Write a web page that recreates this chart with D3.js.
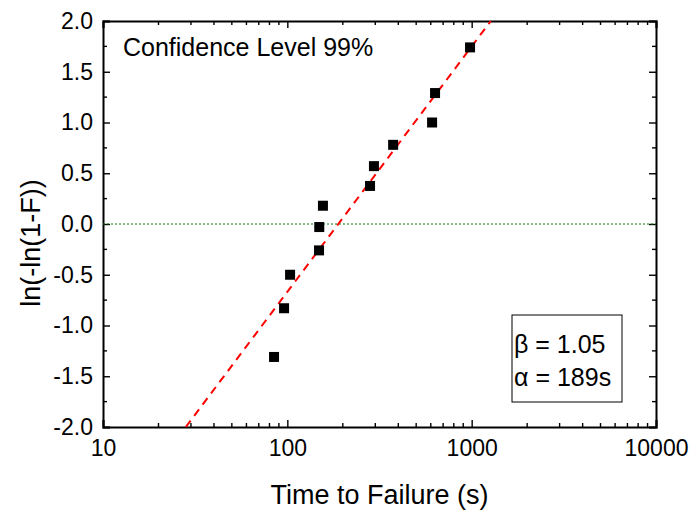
<!DOCTYPE html>
<html>
<head>
<meta charset="utf-8">
<script src="https://cdn.jsdelivr.net/npm/d3@7"></script>
<style>
  body { margin: 0; background: #fff; }
  svg text { font-family: Arial, "Liberation Sans", sans-serif; fill: #000; }
</style>
</head>
<body>
<div id="chart"></div>
<script>
// failure times (s) and Weibull plotting positions ln(-ln(1-F))
const times = [84.7, 96, 103.5, 148.6, 149, 156, 281, 295, 375, 610, 633, 980]
const lnlnF = [-1.31, -0.83, -0.50, -0.26, -0.03, 0.18, 0.375, 0.57, 0.78, 1.0, 1.29, 1.74]

// fit
const beta = 1.05
const alpha = 189

const xTicks = [10, 100, 1000, 10000]
const yTicks = [-2.0, -1.5, -1.0, -0.5, 0.0, 0.5, 1.0, 1.5, 2.0]

const width = 689, height = 512
const margin = {top: 21, right: 33, bottom: 85, left: 103}

const svg = d3.select('#chart').append('svg')
  .attr('width', width)
  .attr('height', height)

const x = d3.scaleLog()
  .domain([10, 10000])
  .range([margin.left, width - margin.right])

const y = d3.scaleLinear()
  .domain([-2, 2])
  .range([height - margin.bottom, margin.top])

const minorX = []
for (let d = 10; d < 10000; d *= 10) {
  for (let k = 2; k <= 9; k++) minorX.push(d * k)
}
const minorY = d3.range(-1.75, 2, 0.5)

// axes - ticks pointing inward on all four sides
const axB = svg.append('g').attr('transform', `translate(0,${y(-2)})`)
axB.call(d3.axisBottom(x).tickValues(xTicks).tickSize(-7).tickPadding(13).tickFormat(d => String(d)))
axB.selectAll('.mb').data(minorX).enter()
  .append('line').attr('x1', d => x(d)).attr('x2', d => x(d)).attr('y1', 0).attr('y2', -4)

const axT = svg.append('g').attr('transform', `translate(0,${y(2)})`)
axT.call(d3.axisTop(x).tickValues(xTicks).tickSize(-7).tickFormat(''))
axT.selectAll('.mt').data(minorX).enter()
  .append('line').attr('x1', d => x(d)).attr('x2', d => x(d)).attr('y1', 0).attr('y2', 4)

const axL = svg.append('g').attr('transform', `translate(${x(10)},0)`)
axL.call(d3.axisLeft(y).tickValues(yTicks).tickSize(-7).tickPadding(10).tickFormat(d => d.toFixed(1)))
axL.selectAll('.ml').data(minorY).enter()
  .append('line').attr('y1', d => y(d)).attr('y2', d => y(d)).attr('x1', 0).attr('x2', 4)

const axR = svg.append('g').attr('transform', `translate(${x(10000)},0)`)
axR.call(d3.axisRight(y).tickValues(yTicks).tickSize(-7).tickFormat(''))
axR.selectAll('.mr').data(minorY).enter()
  .append('line').attr('y1', d => y(d)).attr('y2', d => y(d)).attr('x1', 0).attr('x2', -4)

svg.selectAll('g line').attr('stroke', '#000').attr('stroke-width', 1.4)
svg.selectAll('.domain').attr('stroke', '#000').attr('stroke-width', 2)
svg.selectAll('.tick text').style('font-size', '23px')
axB.selectAll('.tick text').attr('dy', '0.71em')

// zero reference line
svg.append('line')
  .attr('x1', x(10)).attr('x2', x(10000))
  .attr('y1', y(0)).attr('y2', y(0))
  .attr('stroke', '#0a7a0a').attr('stroke-width', 1)
  .attr('stroke-dasharray', '2,2')

// weibull fit: y = beta*(ln t - ln alpha)
const tLo = alpha * Math.exp(-2 / beta)
const tHi = alpha * Math.exp(2 / beta)
svg.append('line')
  .attr('x1', x(tLo)).attr('y1', y(-2))
  .attr('x2', x(tHi)).attr('y2', y(2))
  .attr('stroke', '#ff0000').attr('stroke-width', 2)
  .attr('stroke-dasharray', '8,6')

// points
const pts = times.map((t, i) => ({t: t, v: lnlnF[i]}))
svg.selectAll('rect.pt').data(pts).enter()
  .append('rect')
  .attr('class', 'pt')
  .attr('x', d => x(d.t) - 5)
  .attr('y', d => y(d.v) - 5)
  .attr('width', 10).attr('height', 10)
  .attr('fill', '#000')

svg.append('text')
  .attr('x', 123).attr('y', 56)
  .style('font-size', '25px')
  .text('Confidence Level 99%')

// parameter box
svg.append('rect')
  .attr('x', 512).attr('y', 315)
  .attr('width', 110).attr('height', 87)
  .attr('fill', '#fff').attr('stroke', '#000').attr('stroke-width', 1)
svg.append('text').attr('x', 514).attr('y', 353).style('font-size', '25px').text('β = ' + beta.toFixed(2))
svg.append('text').attr('x', 514).attr('y', 386).style('font-size', '25px').text('α = ' + alpha + 's')

// axis titles
svg.append('text')
  .attr('x', (x(10) + x(10000)) / 2).attr('y', 504)
  .attr('text-anchor', 'middle')
  .style('font-size', '27px')
  .text('Time to Failure (s)')

svg.append('text')
  .attr('transform', 'translate(40,243) rotate(-90)')
  .attr('text-anchor', 'middle')
  .style('font-size', '27px')
  .text('ln(-ln(1-F))')
</script>
</body>
</html>
